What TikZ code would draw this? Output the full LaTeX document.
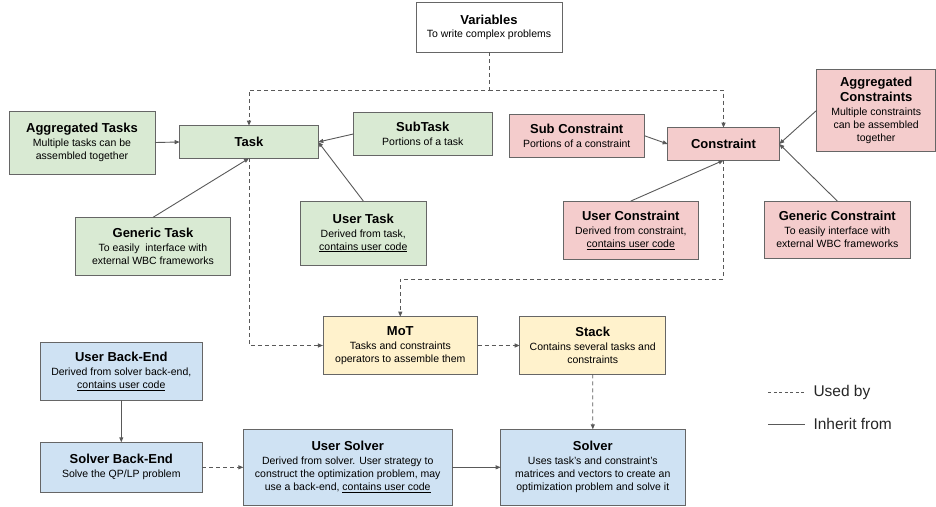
\documentclass[tikz,border=0pt]{standalone}
\usepackage{fontspec}
\setmainfont{Liberation Sans}
\usetikzlibrary{arrows.meta}
\definecolor{gfill}{HTML}{D9EAD3}
\definecolor{rfill}{HTML}{F4CCCC}
\definecolor{yfill}{HTML}{FFF2CC}
\definecolor{bfill}{HTML}{CFE2F3}
\definecolor{bordc}{HTML}{666666}
\definecolor{linec}{HTML}{595959}
\newcommand\boxtitle[1]{{\fontsize{13}{15}\selectfont\bfseries #1}}
\newcommand\descfont{\fontsize{10.5}{13}\selectfont}
\tikzset{
  box/.style={draw=bordc, line width=0.9pt, inner sep=1pt, outer sep=0pt, align=center, font=\descfont, text=black},
  varbox/.style={box, fill=white},
  taskbox/.style={box, fill=gfill},
  conbox/.style={box, fill=rfill},
  usebox/.style={box, fill=yfill},
  solbox/.style={box, fill=bfill},
  dep/.style={draw=linec, line width=0.9pt, dash pattern=on 4pt off 3pt, -{Triangle[length=5pt,width=4pt]}},
  inh/.style={draw=linec, line width=0.9pt, -{Triangle[length=5pt,width=4pt]}},
  legline/.style={draw=linec, line width=0.8pt},
  legtext/.style={font=\fontsize{15.5}{18}\selectfont, text=black!85, anchor=west, inner sep=0pt},
}
\begin{document}
\begin{tikzpicture}[x=1pt, y=-1pt]
\useasboundingbox (0,0) rectangle (936,506);
% boxes
\node[varbox, minimum width=146pt, minimum height=50pt] (var) at (489,27)
  {\boxtitle{Variables}\\To write complex problems};
\node[taskbox, minimum width=146pt, minimum height=63pt] (aggT) at (82,142.5)
  {\boxtitle{Aggregated Tasks}\\[1pt]Multiple tasks can be\\assembled together};
\node[taskbox, minimum width=138.6pt, minimum height=32.6pt] (task) at (249,142)
  {\boxtitle{Task}};
\node[taskbox, minimum width=139pt, minimum height=43.4pt] (subT) at (422.8,134)
  {\boxtitle{SubTask}\\[1pt]Portions of a task};
\node[taskbox, minimum width=154.6pt, minimum height=57.7pt] (genT) at (153,246.2)
  {\boxtitle{Generic Task}\\[1pt]To easily~~interface with\\external WBC frameworks};
\node[taskbox, minimum width=125.3pt, minimum height=64pt] (userT) at (363.3,233)
  {\boxtitle{User Task}\\[1pt]Derived from task,\\\underline{contains user code}};
\node[conbox, minimum width=135.3pt, minimum height=42.7pt] (subC) at (576.7,135.7)
  {\boxtitle{Sub Constraint}\\[1pt]Portions of a constraint};
\node[conbox, minimum width=111.6pt, minimum height=32.6pt] (con) at (723.5,144)
  {\boxtitle{Constraint}};
\node[conbox, minimum width=119pt, minimum height=82.7pt] (aggC) at (876.2,110.3)
  {\boxtitle{Aggregated}\\[2.5pt]\boxtitle{Constraints}\\[1pt]Multiple constraints\\can be assembled\\together};
\node[conbox, minimum width=135.7pt, minimum height=58.3pt] (userC) at (630.8,230.2)
  {\boxtitle{User Constraint}\\[1pt]Derived from constraint,\\\underline{contains user code}};
\node[conbox, minimum width=146pt, minimum height=57.3pt] (genC) at (837.3,229.7)
  {\boxtitle{Generic Constraint}\\[1pt]To easily interface with\\external WBC frameworks};
\node[usebox, minimum width=154.7pt, minimum height=57.6pt] (mot) at (400.3,345.5)
  {\boxtitle{MoT}\\[1pt]Tasks and constraints\\operators to assemble them};
\node[usebox, minimum width=146pt, minimum height=57.6pt] (stack) at (592.7,345.5)
  {\boxtitle{Stack}\\[1pt]Contains several tasks and\\constraints};
\node[solbox, minimum width=162pt, minimum height=57.6pt] (userB) at (121.3,371.5)
  {\boxtitle{User Back-End}\\[1pt]Derived from solver back-end,\\\underline{contains user code}};
\node[solbox, minimum width=162pt, minimum height=50pt] (solB) at (121.3,467.3)
  {\boxtitle{Solver Back-End}\\[1pt]Solve the QP/LP problem};
\node[solbox, minimum width=208.7pt, minimum height=76pt] (userS) at (347.7,467.3)
  {\boxtitle{User Solver}\\[1pt]Derived from solver. User strategy to\\construct the optimization problem, may\\use a back-end, \underline{contains user code}};
\node[solbox, minimum width=184.3pt, minimum height=76pt] (solver) at (592.8,467.3)
  {\boxtitle{Solver}\\[1pt]Uses task's and constraint's\\matrices and vectors to create an\\optimization problem and solve it};
% junctions
\coordinate (j1) at (489,90);
\coordinate (j2) at (723.5,279);
% used-by connectors
\draw[dep] (var.south) -- (j1) -| (task.north);
\draw[dep] (j1) -| (con.north);
\draw[dep] (task.south) |- (mot.west);
\draw[dep] (con.south) -- (j2) -| (mot.north);
\draw[dep] (mot.east) -- (stack.west);
\draw[dep] (stack.south) -- (solver.north);
\draw[dep] (solB.east) -- (userS.west);
% inherit connectors
\draw[inh] (aggT.east) -- (task.west);
\draw[inh] (subT.west) -- (task.east);
\draw[inh] (userT.north) -- (task.east);
\draw[inh] (genT.north) -- (task.south);
\draw[inh] (subC.east) -- (con.west);
\draw[inh] (aggC.west) -- (con.east);
\draw[inh] (userC.north) -- (con.south);
\draw[inh] (genC.north) -- (con.east);
\draw[inh] (userB.south) -- (solB.north);
\draw[inh] (userS.east) -- (solver.west);
% legend
\coordinate (la1) at (768.3,392.3);
\coordinate (la2) at (805,392.3);
\coordinate (lb1) at (768.3,424);
\coordinate (lb2) at (805,424);
\draw[legline, dash pattern=on 3pt off 2.5pt] (la1) -- (la2);
\draw[legline] (lb1) -- (lb2);
\node[legtext] (lused) at (813.3,392.3) {Used by};
\node[legtext] (linh) at (813.3,424) {Inherit from};
\end{tikzpicture}
\end{document}
